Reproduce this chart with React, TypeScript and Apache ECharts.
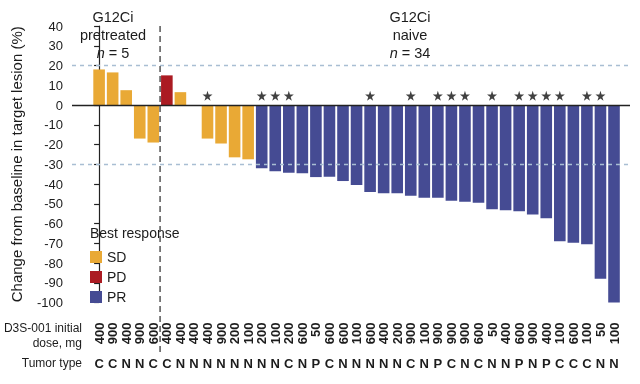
import React, { useEffect, useRef } from 'react';
import * as echarts from 'echarts';

// ---- data ----
const doses = ['400', '900', '400', '900', '600', '400', '400', '400', '400', '900', '200', '100', '200', '100', '200', '600', '50', '600', '600', '100', '600', '400', '200', '900', '100', '900', '900', '900', '600', '50', '400', '600', '900', '400', '100', '600', '100', '50', '100'];
const tumorTypes = ['C', 'C', 'N', 'N', 'C', 'C', 'N', 'N', 'N', 'N', 'N', 'N', 'N', 'N', 'C', 'N', 'P', 'C', 'N', 'N', 'N', 'N', 'N', 'C', 'N', 'P', 'C', 'N', 'C', 'N', 'N', 'P', 'N', 'P', 'C', 'C', 'C', 'N', 'N'];
const changes = [18, 16.5, 7.5, -17, -19, 15, 6.5, 0, -17, -19.5, -26.5, -27.5, -32, -33.5, -34.3, -34.6, -36.5, -36.3, -38.5, -40.5, -44, -44.7, -44.7, -46, -47, -47, -48.5, -49, -49.5, -52.8, -53.3, -53.8, -55.5, -57.4, -69, -69.7, -70.5, -88, -100];
const responses = ['SD', 'SD', 'SD', 'SD', 'SD', 'PD', 'SD', 'SD', 'SD', 'SD', 'SD', 'SD', 'PR', 'PR', 'PR', 'PR', 'PR', 'PR', 'PR', 'PR', 'PR', 'PR', 'PR', 'PR', 'PR', 'PR', 'PR', 'PR', 'PR', 'PR', 'PR', 'PR', 'PR', 'PR', 'PR', 'PR', 'PR', 'PR', 'PR'];
const starredPatients = [9, 13, 14, 15, 21, 24, 26, 27, 28, 30, 32, 33, 34, 35, 37, 38]; // 1-based order
const responseNames = ['SD', 'PD', 'PR'];
const referenceLines = [20, -30];
const pretreatedCount = 5;
const yMin = -100;
const yMax = 40;
const yStep = 10;

const COLORS: Record<string, string> = { SD: '#E9A935', PD: '#AB1B22', PR: '#454B93' };
const FONT = '"Liberation Sans", Arial, sans-serif';
const TEXT = '#1c1c1c';
const STAR = 'path://M50,0 L61,35 L98,35 L68,57 L79,91 L50,70 L21,91 L32,57 L2,35 L39,35 Z';

export default function App() {
  const ref = useRef<HTMLDivElement>(null);
  useEffect(() => {
    const chart = echarts.init(ref.current!, null, { renderer: 'svg' });
    const n = doses.length;
    const xMin = -2;
    const xMax = n - 1 + 1.18;
    const inRange = (v: number) => Number.isInteger(v) && v >= 0 && v < n;

    const barSeries = responseNames.map((r, k) => ({
      name: r,
      type: 'bar',
      barWidth: 11.6,
      barGap: '-100%',
      itemStyle: { color: COLORS[r] },
      data: changes.map((v, i) => (responses[i] === r ? [i, v] : null)).filter((d) => d !== null),
      z: 2,
      markLine: k === 0 ? {
        silent: true,
        symbol: ['none', 'none'],
        label: { show: false },
        data: [
          { yAxis: 0, lineStyle: { color: '#222', width: 1.3, type: 'solid' } },
          ...referenceLines.map((v) => ({ yAxis: v, lineStyle: { color: '#A9BED3', width: 1.3, type: [4, 4] } })),
        ],
      } : undefined,
    }));

    const starSeries = {
      name: 'star',
      type: 'scatter',
      symbol: STAR,
      symbolSize: 10,
      itemStyle: { color: '#111' },
      data: starredPatients.map((p) => [p - 1, 4.7]),
      z: 5,
    };

    const xBase = {
      type: 'value',
      min: xMin,
      max: xMax,
      interval: 1,
      position: 'bottom',
      axisLine: { show: false, onZero: false },
      axisTick: { show: false },
      splitLine: { show: false },
    };

    chart.setOption({
      animation: false,
      textStyle: { fontFamily: FONT },
      grid: { left: 72, right: 10, top: 26, bottom: 81.5 },
      legend: {
        data: responseNames,
        orient: 'vertical',
        left: 85,
        top: 245,
        itemWidth: 12,
        itemHeight: 12,
        itemGap: 6,
        icon: 'rect',
        textStyle: { fontSize: 14, color: TEXT, fontFamily: FONT },
      },
      xAxis: [
        {
          ...xBase,
          axisLabel: {
            rotate: 90,
            margin: 20,
            fontSize: 13,
            fontWeight: 'bold',
            color: TEXT,
            fontFamily: FONT,
            formatter: (v: number) => (inRange(v) ? doses[v] : ''),
          },
        },
        {
          ...xBase,
          axisLabel: {
            margin: 54,
            fontSize: 13,
            fontWeight: 'bold',
            color: TEXT,
            fontFamily: FONT,
            formatter: (v: number) => (inRange(v) ? tumorTypes[v] : ''),
          },
        },
      ],
      yAxis: {
        type: 'value',
        min: yMin,
        max: yMax,
        interval: yStep,
        name: 'Change from baseline in target lesion (%)',
        nameLocation: 'middle',
        nameGap: 48,
        nameTextStyle: { fontSize: 15, color: TEXT, fontFamily: FONT },
        axisLine: { show: true, lineStyle: { color: '#222', width: 1.2 } },
        axisTick: { show: true, length: 5, lineStyle: { color: '#222', width: 1.2 } },
        axisLabel: { fontSize: 13, color: TEXT, margin: 9, fontFamily: FONT },
        splitLine: { show: false },
      },
      series: [...barSeries, starSeries],
    });

    const divX = chart.convertToPixel({ xAxisIndex: 0 }, pretreatedCount - 0.5) as number;
    const topY = chart.convertToPixel({ yAxisIndex: 0 }, yMax) as number;

    chart.setOption({
      graphic: [
        {
          type: 'line',
          shape: { x1: divX, y1: topY, x2: divX, y2: 352 },
          style: { stroke: '#555', lineWidth: 1.5, lineDash: [6, 4] },
          z: 10,
        },
        {
          type: 'text',
          x: 113,
          y: 35,
          style: { text: 'G12Ci\npretreated\n{i|n} = 5', rich: { i: { fontStyle: 'italic', fontSize: 14.5, fill: TEXT, fontFamily: FONT } }, fontSize: 14.5, lineHeight: 18, fill: TEXT, fontFamily: FONT, align: 'center', verticalAlign: 'middle' },
        },
        {
          type: 'text',
          x: 410,
          y: 35,
          style: { text: 'G12Ci\nnaive\n{i|n} = 34', rich: { i: { fontStyle: 'italic', fontSize: 14.5, fill: TEXT, fontFamily: FONT } }, fontSize: 14.5, lineHeight: 18, fill: TEXT, fontFamily: FONT, align: 'center', verticalAlign: 'middle' },
        },
        {
          type: 'text',
          x: 90,
          y: 233,
          style: { text: 'Best response', fontSize: 14, fill: TEXT, fontFamily: FONT, align: 'left', verticalAlign: 'middle' },
        },
        {
          type: 'text',
          x: 82,
          y: 335,
          style: { text: 'D3S-001 initial\ndose, mg', fontSize: 12, lineHeight: 15, fill: TEXT, fontFamily: FONT, align: 'right', verticalAlign: 'middle' },
        },
        {
          type: 'text',
          x: 82,
          y: 363,
          style: { text: 'Tumor type', fontSize: 12, fill: TEXT, fontFamily: FONT, align: 'right', verticalAlign: 'middle' },
        },
      ],
    });

    return () => chart.dispose();
  }, []);
  return <div ref={ref} style={{ position: 'fixed', left: 0, top: 0, width: 640, height: 384 }} />;
}
